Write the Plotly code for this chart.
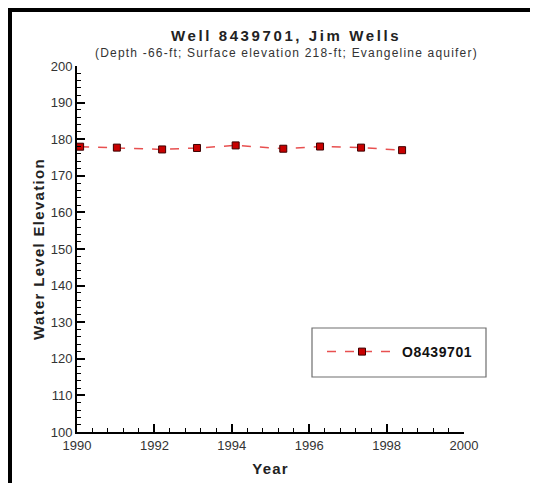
import plotly.graph_objects as go

years = [1990.08, 1991.03, 1992.2, 1993.1, 1994.1, 1995.33, 1996.28, 1997.34, 1998.4]
levels = [177.95, 177.7, 177.2, 177.6, 178.3, 177.4, 178.0, 177.7, 177.0]
series_name = "O8439701"

title_text = "Well 8439701, Jim Wells"
subtitle_text = "(Depth -66-ft; Surface elevation 218-ft; Evangeline aquifer)"
x_title = "Year"
y_title = "Water Level Elevation"

font_family = "Liberation Sans, Arial, sans-serif"


def spaced(text, px, bold=False):
    # the original plot uses loosely spaced lettering
    s = '<span style="letter-spacing:%.1fpx">%s</span>' % (px, text)
    return "<b>" + s + "</b>" if bold else s


fig = go.Figure()

fig.add_trace(go.Scatter(
    x=years,
    y=levels,
    name=spaced(series_name, 0.6, bold=True),
    mode="lines+markers",
    line=dict(color="rgb(232,80,80)", width=1.5, dash="dash"),
    marker=dict(symbol="square", size=7, color="rgb(200,0,0)",
                line=dict(color="rgb(60,0,0)", width=1)),
    cliponaxis=False,
))

# the page body has an 8px margin, so the figure is 8px smaller than the window;
# plot area is 387 x 366 px, at (77, 66)-(464, 432) in window pixels
def px_x(x):
    return (x - 77) / 387.0

def px_y(y):
    return (432 - y) / 366.0

shapes = [
    # black frame (top and left edges of the original page)
    dict(type="rect", xref="paper", yref="paper",
         x0=px_x(0), x1=px_x(12), y0=px_y(490), y1=px_y(5),
         fillcolor="black", line=dict(width=0)),
    dict(type="rect", xref="paper", yref="paper",
         x0=px_x(0), x1=px_x(545), y0=px_y(12), y1=px_y(0),
         fillcolor="black", line=dict(width=0)),
    # legend box
    dict(type="rect", xref="paper", yref="paper",
         x0=px_x(312), x1=px_x(486), y0=px_y(377), y1=px_y(328),
         fillcolor="rgba(0,0,0,0)", line=dict(color="rgb(110,110,110)", width=1.2)),
]

annotations = [
    dict(text=spaced(title_text, 2.6, bold=True), xref="paper", yref="paper",
         x=px_x(286), y=px_y(36), showarrow=False, xanchor="center", yanchor="middle",
         font=dict(family=font_family, size=15, color="#222")),
    dict(text=spaced(subtitle_text, 1.2), xref="paper", yref="paper",
         x=px_x(286), y=px_y(53), showarrow=False, xanchor="center", yanchor="middle",
         font=dict(family=font_family, size=12, color="#333")),
]

fig.update_layout(
    width=530,
    height=475,
    margin=dict(l=69, r=74, t=58, b=51),
    paper_bgcolor="white",
    plot_bgcolor="white",
    font=dict(family=font_family, color="#333"),
    shapes=shapes,
    annotations=annotations,
    showlegend=True,
    legend=dict(
        x=px_x(322), y=px_y(352), xanchor="left", yanchor="middle",
        bgcolor="rgba(0,0,0,0)", borderwidth=0,
        itemwidth=70,
        font=dict(family=font_family, size=14, color="#111"),
    ),
)

fig.update_xaxes(
    range=[1990, 2000],
    dtick=2,
    tick0=1990,
    automargin=False,
    showgrid=False,
    zeroline=False,
    showline=True,
    linecolor="black",
    linewidth=2,
    ticks="inside",
    ticklen=8,
    tickwidth=1.5,
    tickcolor="black",
    minor=dict(ticks="inside", dtick=0.4, ticklen=4, tickcolor="black", tickwidth=1),
    tickfont=dict(size=13, color="#333"),
    title=dict(text=spaced(x_title, 1.2, bold=True), font=dict(size=15, color="#222"), standoff=12),
)

fig.update_yaxes(
    range=[100, 200],
    dtick=10,
    tick0=100,
    automargin=False,
    showgrid=False,
    zeroline=False,
    showline=True,
    linecolor="black",
    linewidth=2,
    ticks="inside",
    ticklen=8,
    tickwidth=1.5,
    tickcolor="black",
    minor=dict(ticks="inside", dtick=2, ticklen=4, tickcolor="black", tickwidth=1),
    tickfont=dict(size=13, color="#333"),
    title=dict(text=spaced(y_title, 1.3, bold=True), font=dict(size=15, color="#222"), standoff=2),
)

fig.write_html("out.html")
